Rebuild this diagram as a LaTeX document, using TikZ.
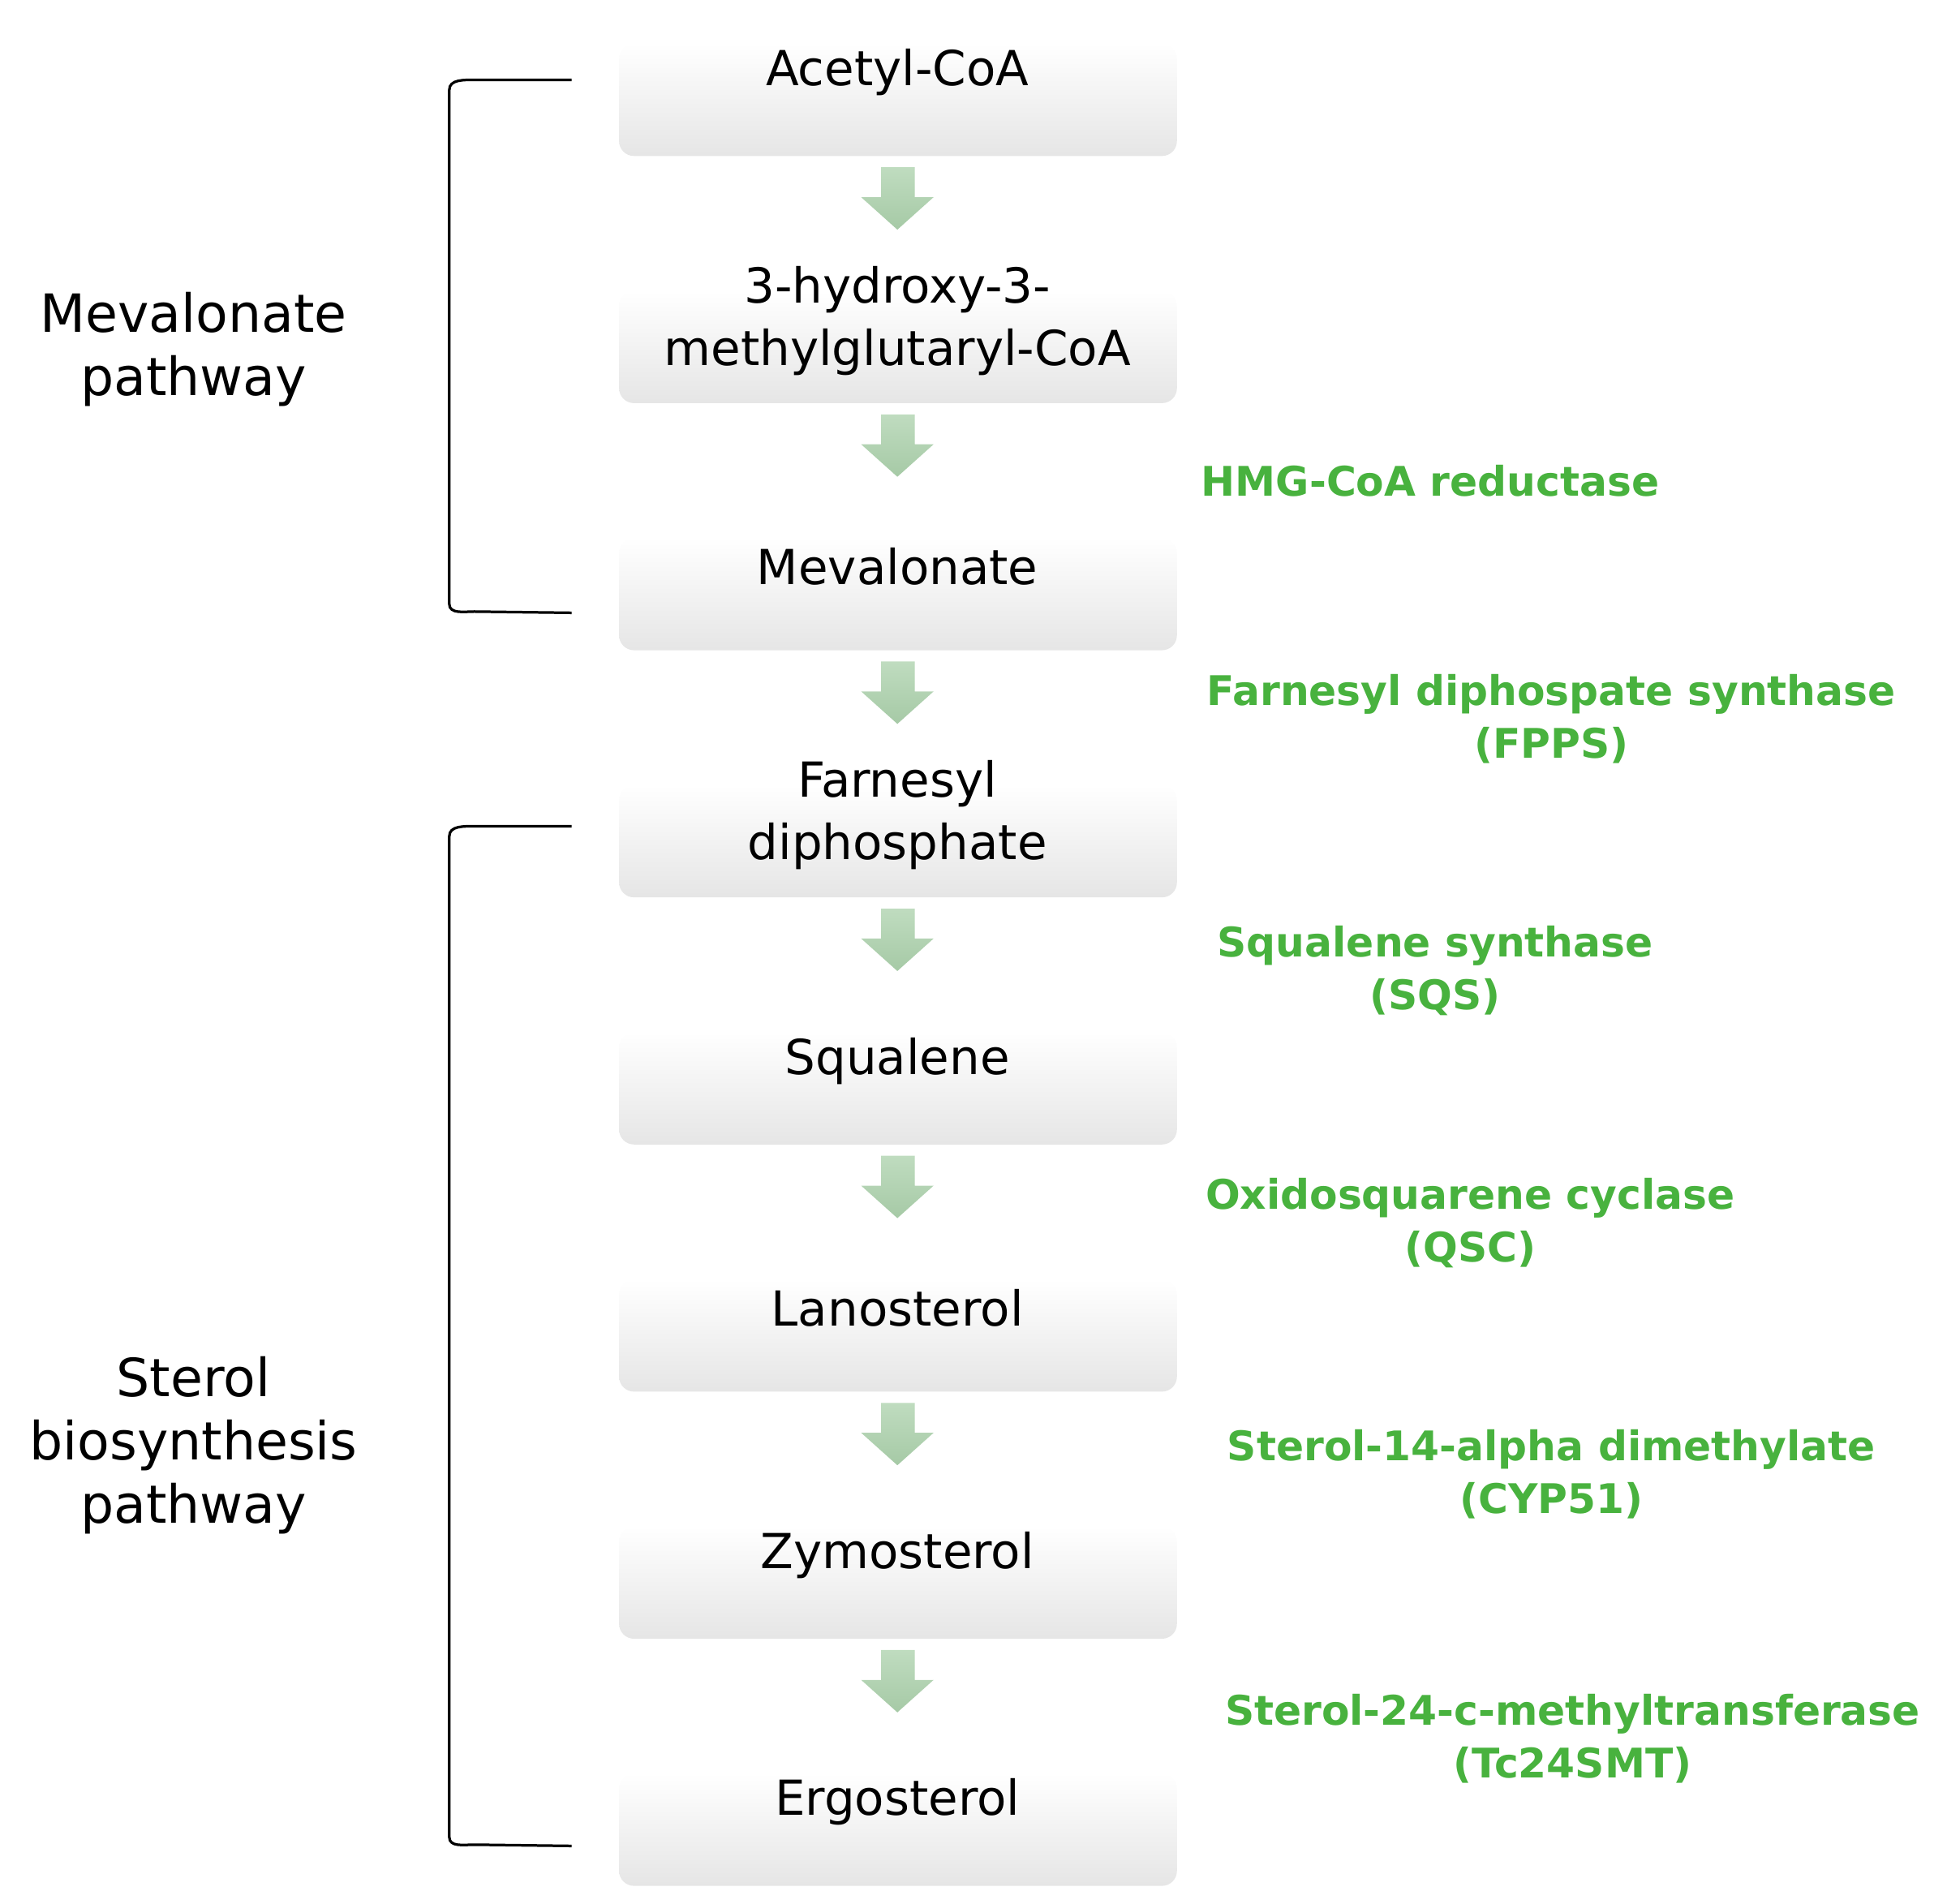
\documentclass[tikz,border=0pt]{standalone}
\usepackage{fontspec}
\setmainfont{DejaVu Sans}
\begin{document}
\begin{tikzpicture}[x=0.1mm,y=-0.1mm,
 box/.style={rounded corners=1.2mm,top color=white,bottom color=black!10,draw=none},
 lab/.style={font=\fontsize{11}{14.2}\selectfont,align=center},
 enz/.style={font=\fontsize{9.3}{12}\selectfont\bfseries,text=enz,align=center},
 arr/.style={top color=green!45!black!25,bottom color=green!40!black!35,draw=none}]
\definecolor{enz}{RGB}{72,178,62}
\useasboundingbox (0,0) rectangle (1560,1525);
\foreach \i/\t in {0/{Acetyl-CoA},1/{},2/{Mevalonate},3/{},4/{Squalene},5/{Lanosterol},6/{Zymosterol},7/{Ergosterol}}{
  \pgfmathsetmacro\b{125+198*\i}
  \shade[box] (496,\b-90) rectangle (943,\b);
  \node[lab] (t\i) at (719,\b-67) {\t};
}
\foreach \i in {0,...,6}{
  \pgfmathsetmacro\a{134+198*\i}
  \shade[arr] (706,\a) -- (733,\a) -- (733,\a+24) -- (748,\a+24) -- (719,\a+50) -- (690,\a+24) -- (706,\a+24) -- cycle;
}
\node[lab] (h) at (719,257) {3-hydroxy-3-\\methylglutaryl-CoA};
\node[lab] (f) at (719,653) {Farnesyl\\diphosphate};
\node[lab,font=\fontsize{12}{14.5}\selectfont] (m) at (155,280) {Mevalonate\\pathway};
\node[lab,font=\fontsize{12}{14.5}\selectfont] (s) at (155,1158) {Sterol\\biosynthesis\\pathway};
\draw[line width=0.6pt] (458,64) -- (380,64) to[out=180,in=90] (360,72) -- (360,484) to[out=-90,in=180] (380,490) -- (458,491);
\draw[line width=0.6pt] (458,662) -- (380,662) to[out=180,in=90] (360,670) -- (360,1472) to[out=-90,in=180] (380,1478) -- (458,1479);
\node[enz] (e1) at (1146,385) {HMG-CoA reductase};
\node[enz] (e2) at (1243,576) {Farnesyl diphospate synthase\\(FPPS)};
\node[enz] (e3) at (1150,778) {Squalene synthase\\(SQS)};
\node[enz] (e4) at (1178,980) {Oxidosquarene cyclase\\(QSC)};
\node[enz] (e5) at (1243,1181) {Sterol-14-alpha dimethylate\\(CYP51)};
\node[enz] (e6) at (1260,1393) {Sterol-24-c-methyltransferase\\(Tc24SMT)};
\end{tikzpicture}
\end{document}
